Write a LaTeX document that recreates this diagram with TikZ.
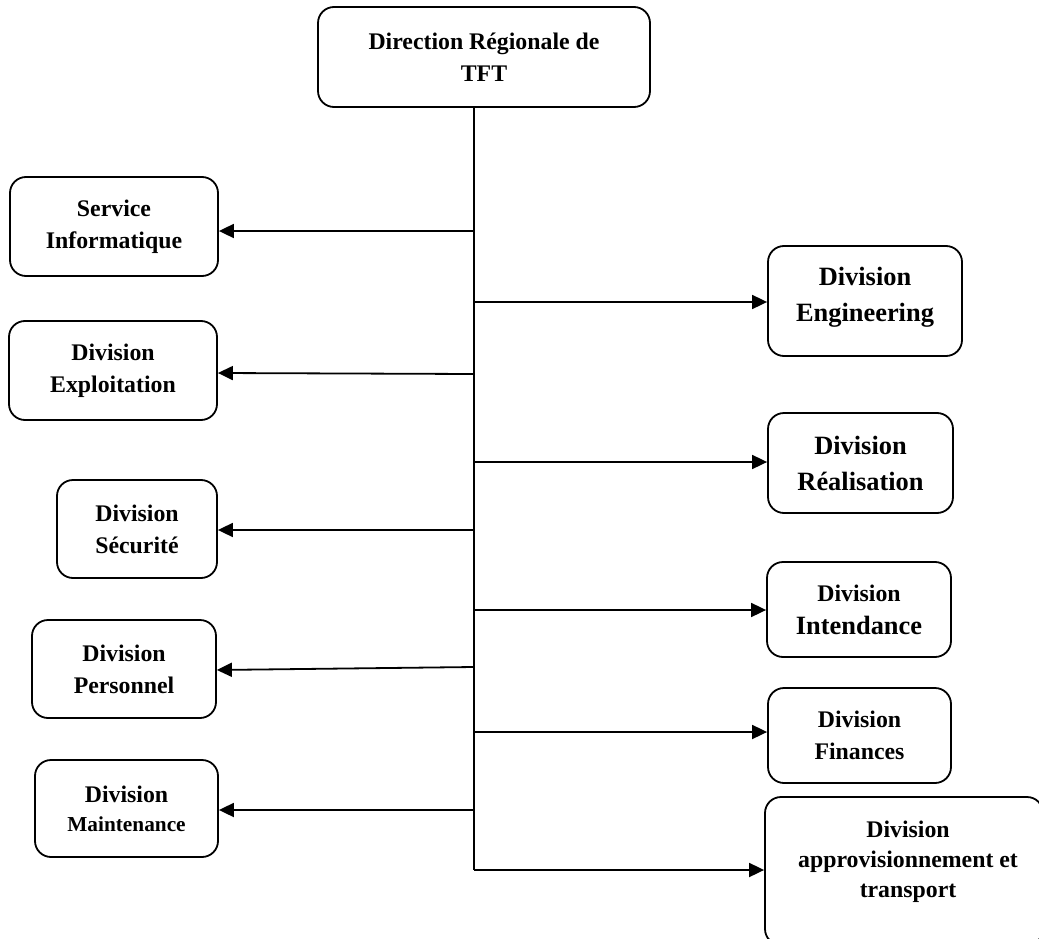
\documentclass[tikz,border=0pt]{standalone}
\usepackage{fontspec}
\setmainfont{Liberation Serif}
\usetikzlibrary{arrows.meta}
\begin{document}
\begin{tikzpicture}[x=1pt,y=-1pt,
  box/.style={draw, line width=1.8pt, rounded corners=16pt, inner sep=0pt},
  txt/.style={inner sep=0pt, align=center, font=\bfseries\fontsize{23.8}{32}\selectfont},
  big/.style={font=\bfseries\fontsize{26.4}{36}\selectfont},
  link/.style={line width=1.8pt},
  arr/.style={line width=1.8pt, -{Triangle[length=15pt,width=14pt]}}]
\fill[white] (0,0) rectangle (1039,939);
\useasboundingbox (0,0) rectangle (1039,939);
\clip (0,0) rectangle (1039,939);

% head office
\node[box, txt, minimum width=332, minimum height=100] (dir) at (484,57) {Direction Régionale de\\TFT};

% left column
\node[box, txt, minimum width=208, minimum height=99] (svc) at (114,226.5) {Service\\Informatique};
\node[box, txt, minimum width=208, minimum height=99] (expl) at (113,370.5) {Division\\Exploitation};
\node[box, txt, minimum width=160, minimum height=98] (secu) at (137,529) {Division\\Sécurité};
\node[box, txt, minimum width=184, minimum height=98] (pers) at (124,669) {Division\\Personnel};
\node[box, txt, minimum width=183, minimum height=97] (maint) at (126.5,808.5) {Division\\[-3pt]{\fontsize{21.3}{29}\selectfont Maintenance}};

% right column
\node[box, minimum width=194, minimum height=110] (eng) at (865,301) {};
\node[txt, big] (engt) at (865,297) {Division\\Engineering};
\node[box, txt, big, minimum width=185, minimum height=100] (real) at (860.5,463) {Division\\Réalisation};
\node[box, txt, minimum width=184, minimum height=95] (inte) at (859,609.5) {Division\\[1pt]{\fontsize{26.4}{36}\selectfont Intendance}};
\node[box, txt, minimum width=183, minimum height=95] (fin) at (859.5,735.5) {Division\\Finances};
\node[box, minimum width=278, minimum height=148] (appro) at (904,871) {};
\node[txt] (approt) at (908,862) {Division\\[-2pt]approvisionnement et\\[-2pt]transport};

% trunk
\coordinate (tb) at (474,870);
\draw[link] (dir.south -| tb) -- (tb);

% branches to the left
\coordinate (l1) at (474,231);
\coordinate (l2) at (474,374);
\coordinate (l3) at (474,530);
\coordinate (l4) at (474,667);
\coordinate (l5) at (474,810);
\draw[arr] (l1) -- (l1 -| svc.east);
\draw[arr] (l2) -- ([yshift=-2.5pt]expl.east);
\draw[arr] (l3) -- (l3 -| secu.east);
\draw[arr] (l4) -- ([yshift=-1pt]pers.east);
\draw[arr] (l5) -- (l5 -| maint.east);

% branches to the right
\coordinate (r1) at (474,302);
\coordinate (r2) at (474,462);
\coordinate (r3) at (474,610);
\coordinate (r4) at (474,732);
\draw[arr] (r1) -- (r1 -| eng.west);
\draw[arr] (r2) -- (r2 -| real.west);
\draw[arr] (r3) -- (r3 -| inte.west);
\draw[arr] (r4) -- (r4 -| fin.west);
\draw[arr] (tb) -- (tb -| appro.west);
\end{tikzpicture}
\end{document}
